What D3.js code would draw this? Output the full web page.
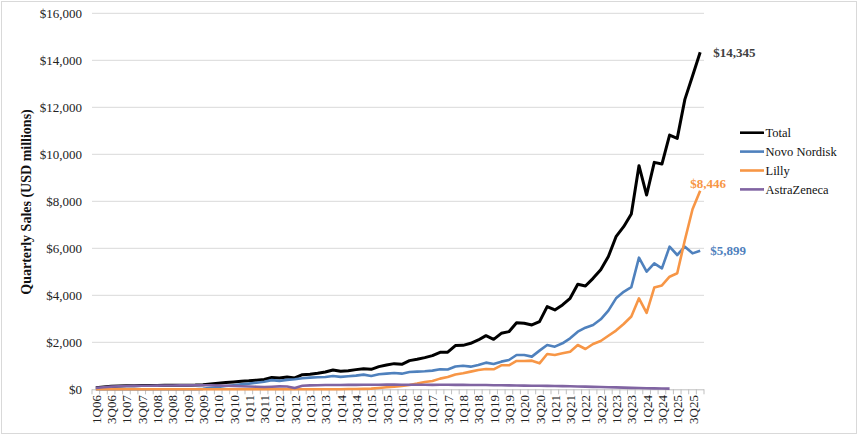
<!DOCTYPE html>
<html>
<head>
<meta charset="utf-8">
<script src="https://cdn.jsdelivr.net/npm/d3@7"></script>
<style>
  body { margin: 0; background: #fff; }
  svg { font-family: "Liberation Serif", "DejaVu Serif", serif; }
</style>
</head>
<body>
<svg id="chart"></svg>
<script>
// quarter categories 1Q06 .. 4Q25
const years = ["06","07","08","09","10","11","12","13","14","15","16","17","18","19","20","21","22","23","24","25"];
const quarters = [];
years.forEach(y => { for (let q = 1; q <= 4; q++) quarters.push(q + "Q" + y); });

const yTicks = [0, 2000, 4000, 6000, 8000, 10000, 12000, 14000, 16000];

// quarterly sales, USD millions
const total = [
  70, 100, 125, 140, 150, 155, 160, 160, 165, 170, 170, 175, 175, 180, 195, 230,
  260, 290, 315, 340, 360, 390, 420, 500, 485, 520, 485, 620, 638, 680, 737, 822,
  766, 794, 837, 879, 851, 964, 1035, 1092, 1064, 1220, 1276, 1347, 1432, 1574, 1580, 1860,
  1870, 1957, 2099, 2283, 2127, 2382, 2453, 2836, 2808, 2737, 2879, 3517, 3375, 3588, 3871, 4467,
  4396, 4722, 5090, 5650, 6494, 6920, 7459, 9515, 8267, 9657, 9586, 10819, 10678, 12337, 13329, 14345
];
const novo = [
  0, 0, 0, 0, 0, 0, 0, 0, 0, 0, 0, 0, 0, 0, 20, 60,
  100, 140, 175, 210, 240, 280, 320, 390, 360, 400, 430, 470, 496, 510, 525, 567,
  530, 553, 581, 624, 567, 638, 666, 695, 666, 737, 751, 766, 794, 851, 840, 970,
  1000, 964, 1035, 1134, 1078, 1177, 1248, 1461, 1461, 1390, 1645, 1886, 1815, 1957, 2170, 2453,
  2623, 2737, 2978, 3350, 3870, 4150, 4350, 5601, 5006, 5360, 5147, 6069, 5715, 6069, 5785, 5899
];
const lilly = [
  0, 0, 0, 0, 0, 0, 0, 0, 0, 0, 0, 0, 0, 0, 0, 0,
  0, 0, 0, 0, 0, 0, 0, 0, 0, 0, 0, 0, 0, 0, 0, 0,
  5, 10, 15, 20, 30, 57, 85, 113, 142, 184, 241, 312, 354, 454, 520, 630,
  681, 752, 822, 865, 851, 1021, 1021, 1205, 1205, 1219, 1106, 1503, 1461, 1531, 1602, 1886,
  1716, 1928, 2056, 2280, 2500, 2780, 3100, 3870, 3250, 4330, 4420, 4791, 4936, 6353, 7660, 8446
];
const astra = [
  60, 90, 115, 130, 140, 145, 150, 150, 155, 160, 160, 165, 165, 170, 170, 170,
  160, 150, 140, 130, 120, 110, 100, 110, 125, 120, 55, 150, 165, 175, 180, 185,
  185, 190, 190, 195, 195, 195, 200, 200, 195, 195, 195, 195, 190, 195, 195, 190,
  190, 185, 185, 180, 175, 170, 165, 160, 155, 150, 150, 145, 140, 135, 130, 120,
  115, 105, 95, 90, 80, 70, 60, 55, 45, 40, 35, 30
];

const seriesNames = ["Total", "Novo Nordisk", "Lilly", "AstraZeneca"];
const seriesValues = [total, novo, lilly, astra];
const seriesColors = ["#000000", "#4F81BD", "#F79646", "#8064A2"];

const W = 860, H = 440;
const plot = {left: 92, right: 704, top: 13.3, bottom: 389.3};

const svg = d3.select("#chart").attr("width", W).attr("height", H);

// outer frame
svg.append("rect")
  .attr("x", 1.5).attr("y", 1.5)
  .attr("width", 855).attr("height", 432)
  .attr("fill", "#fff")
  .attr("stroke", "#d9d9d9");

const x = d3.scaleBand().domain(quarters).range([plot.left, plot.right]);
const y = d3.scaleLinear().domain([0, 16000]).range([plot.bottom, plot.top]);
const cx = q => x(q) + x.bandwidth() / 2;

// gridlines
svg.append("g")
  .selectAll("line")
  .data(yTicks.filter(d => d > 0))
  .join("line")
    .attr("x1", plot.left).attr("x2", plot.right)
    .attr("y1", d => y(d)).attr("y2", d => y(d))
    .attr("stroke", "#d9d9d9").attr("stroke-width", 1);

// y tick labels
svg.append("g")
  .selectAll("text")
  .data(yTicks)
  .join("text")
    .attr("x", 82)
    .attr("y", d => y(d))
    .attr("dy", "0.35em")
    .attr("text-anchor", "end")
    .attr("font-size", 13)
    .attr("fill", "#222")
    .text(d => "$" + d3.format(",")(d));

// y title
svg.append("text")
  .attr("transform", "translate(31, 202) rotate(-90)")
  .attr("text-anchor", "middle")
  .attr("font-size", 14)
  .attr("font-weight", "bold")
  .attr("fill", "#111")
  .text("Quarterly Sales (USD millions)");

// x axis line and ticks between categories
const axisG = svg.append("g");
axisG.append("line")
  .attr("x1", plot.left).attr("x2", plot.right)
  .attr("y1", plot.bottom + 0.5).attr("y2", plot.bottom + 0.5)
  .attr("stroke", "#bfbfbf");
axisG.selectAll("line.tick")
  .data(quarters.concat(["end"]))
  .join("line")
    .attr("class", "tick")
    .attr("x1", (d, i) => plot.left + i * x.bandwidth())
    .attr("x2", (d, i) => plot.left + i * x.bandwidth())
    .attr("y1", plot.bottom).attr("y2", plot.bottom + 5)
    .attr("stroke", "#bfbfbf");

// x labels every other quarter
axisG.selectAll("text")
  .data(quarters.filter((d, i) => i % 2 === 0))
  .join("text")
    .attr("transform", d => `translate(${cx(d) + 0.5}, 395) rotate(-90)`)
    .attr("text-anchor", "end")
    .attr("dy", "0.35em")
    .attr("font-size", 13)
    .attr("fill", "#222")
    .text(d => d);

// lines
const line = d3.line()
  .x((d, i) => cx(quarters[i]))
  .y(d => y(d));

seriesValues.forEach((vals, k) => {
  svg.append("path")
    .datum(vals)
    .attr("fill", "none")
    .attr("stroke", seriesColors[k])
    .attr("stroke-width", k === 0 ? 3 : 2.6)
    .attr("stroke-linejoin", "round")
    .attr("d", line);
});

// end value labels
const lastQ = quarters[quarters.length - 1];
svg.append("text")
  .attr("x", cx(lastQ) + 13).attr("y", y(total[total.length - 1]))
  .attr("dy", "0.35em")
  .attr("font-size", 13).attr("font-weight", "bold")
  .attr("fill", "#404040")
  .text("$" + d3.format(",")(total[total.length - 1]));
svg.append("text")
  .attr("x", cx(lastQ) + 8).attr("y", y(lilly[lilly.length - 1]) - 3)
  .attr("text-anchor", "middle")
  .attr("font-size", 13).attr("font-weight", "bold")
  .attr("fill", seriesColors[2])
  .text("$" + d3.format(",")(lilly[lilly.length - 1]));
svg.append("text")
  .attr("x", cx(lastQ) + 10).attr("y", y(novo[novo.length - 1]))
  .attr("dy", "0.35em")
  .attr("font-size", 13).attr("font-weight", "bold")
  .attr("fill", seriesColors[1])
  .text("$" + d3.format(",")(novo[novo.length - 1]));

// legend
const legend = svg.append("g").attr("transform", "translate(740, 132.7)");
const items = legend.selectAll("g")
  .data(seriesNames)
  .join("g")
    .attr("transform", (d, i) => `translate(0, ${i * 18.9})`);
items.append("line")
  .attr("x1", 0).attr("x2", 24)
  .attr("stroke", (d, i) => seriesColors[i])
  .attr("stroke-width", 2.6);
items.append("text")
  .attr("x", 25.5)
  .attr("dy", "0.35em")
  .attr("font-size", 12.5)
  .attr("fill", "#111")
  .text(d => d);
</script>
</body>
</html>
